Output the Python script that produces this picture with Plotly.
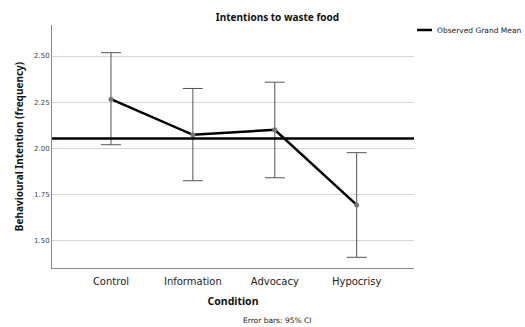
import plotly.graph_objects as go

categories = ["Control", "Information", "Advocacy", "Hypocrisy"]
means = [2.266, 2.073, 2.100, 1.693]
ci_upper = [2.518, 2.324, 2.358, 1.976]
ci_lower = [2.019, 1.824, 1.840, 1.409]
grand_mean = 2.053
y_ticks = [1.50, 1.75, 2.00, 2.25, 2.50]

err_plus = [u - m for u, m in zip(ci_upper, means)]
err_minus = [m - l for m, l in zip(means, ci_lower)]

W, H = 525, 327
L, R, T, B = 52, 111, 25, 59

fig = go.Figure()
fig.add_trace(go.Scatter(
    x=categories, y=means, mode="lines+markers",
    line=dict(color="black", width=2.5),
    marker=dict(color="#777777", size=5),
    error_y=dict(type="data", symmetric=False, array=err_plus, arrayminus=err_minus,
                 color="#555555", thickness=1, width=10),
    showlegend=False, hoverinfo="x+y",
))

# grand mean reference line
fig.add_shape(type="line", xref="paper", x0=0, x1=1, yref="y", y0=grand_mean, y1=grand_mean,
              line=dict(color="black", width=2.5), layer="above")

# manual legend
pw = W - L - R
ph = H - T - B
def px_to_paper_x(px):
    return (px - L) / pw
def px_to_paper_y(py):
    return (H - B - py) / ph

fig.add_shape(type="line", xref="paper", yref="paper",
              x0=px_to_paper_x(417), x1=px_to_paper_x(432),
              y0=px_to_paper_y(30), y1=px_to_paper_y(30),
              line=dict(color="black", width=2.5))
fig.add_annotation(text="Observed Grand Mean", xref="paper", yref="paper",
                   x=px_to_paper_x(435), y=px_to_paper_y(30), xanchor="left", yanchor="middle",
                   showarrow=False, font=dict(family="DejaVu Sans", size=7.5, color="#222222"))

fig.add_annotation(text="Error bars: 95% CI", xref="paper", yref="paper",
                   x=px_to_paper_x(277), y=px_to_paper_y(320), xanchor="center", yanchor="middle",
                   showarrow=False, font=dict(family="DejaVu Sans", size=7.5, color="#222222"))

fig.update_layout(
    width=W, height=H,
    margin=dict(l=L, r=R, t=T, b=B),
    paper_bgcolor="white", plot_bgcolor="white",
    title=dict(text="<b>Intentions to waste food</b>", x=277.5 / W, xref="container", xanchor="center",
               y=1 - 17 / H, yref="container", yanchor="middle",
               font=dict(family="Noto Sans", size=10, color="#111111")),
    xaxis=dict(type="category", range=[-0.72, 3.7], showgrid=False,
               showline=True, linecolor="#888888", linewidth=1, ticks="",
               ticklabelstandoff=4,
               tickfont=dict(family="DejaVu Sans", size=10, color="#222222"),
               title=dict(text="<b>Condition</b>", standoff=11,
                          font=dict(family="Noto Sans", size=10.5, color="#111111"))),
    yaxis=dict(range=[1.351, 2.668], tickvals=y_ticks, tickformat=".2f",
               showgrid=True, gridcolor="#d6d6d6", gridwidth=1, zeroline=False,
               showline=True, linecolor="#888888", linewidth=1, ticks="",
               tickfont=dict(family="DejaVu Sans", size=7, color="#444444"),
               title=dict(text="<b>Behavioural Intention (frequency)</b>", standoff=8,
                          font=dict(family="Noto Sans", size=10, color="#111111"))),
)

fig.write_html("out.html")
